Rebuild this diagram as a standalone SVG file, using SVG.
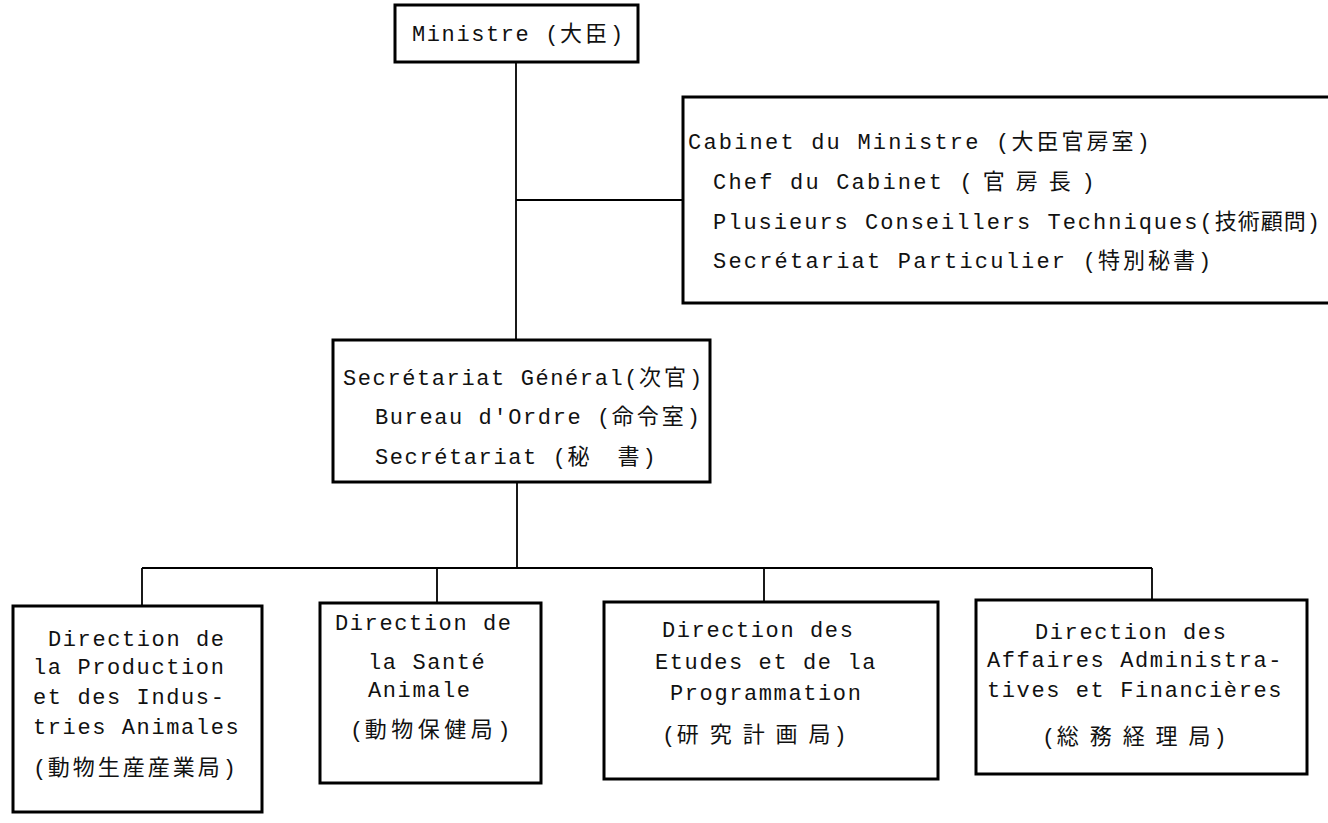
<svg xmlns="http://www.w3.org/2000/svg" width="1328" height="823" viewBox="0 0 1328 823">
<style>
.box{fill:#fff;stroke:#000;stroke-width:3}
.ln{stroke:#000;stroke-width:1.8;fill:none}
text{font-family:"Liberation Mono","Noto Sans CJK JP",monospace;font-size:22px;letter-spacing:1.6px;fill:#111;white-space:pre}
.j{font-family:"Noto Sans CJK JP",sans-serif;font-size:22px;letter-spacing:3px}
.cab text{letter-spacing:2.2px}
.cab .j{letter-spacing:3px}
</style>
<rect width="1328" height="823" fill="#fff"/>
<g id="connectors">
<line class="ln" x1="516" y1="62" x2="516" y2="340"/>
<line class="ln" x1="516" y1="200" x2="683" y2="200"/>
<line class="ln" x1="517" y1="482" x2="517" y2="568"/>
<line class="ln" x1="142" y1="568" x2="1152" y2="568"/>
<line class="ln" x1="142" y1="568" x2="142" y2="606"/>
<line class="ln" x1="437" y1="568" x2="437" y2="603"/>
<line class="ln" x1="764" y1="568" x2="764" y2="602"/>
<line class="ln" x1="1152" y1="568" x2="1152" y2="600"/>
</g>
<g id="ministre">
<rect class="box" x="395" y="5" width="243" height="57"/>
<text x="412" y="41" xml:space="preserve">Ministre (<tspan class="j">大臣</tspan>)</text>
</g>
<g id="cabinet" class="cab">
<rect class="box" x="683" y="97" width="660" height="206"/>
<text x="688" y="149" xml:space="preserve">Cabinet du Ministre (<tspan class="j">大臣官房室</tspan>)</text>
<text x="713" y="189" xml:space="preserve">Chef du Cabinet (<tspan class="j"> 官 房 長 </tspan>)</text>
<text x="713" y="229" xml:space="preserve" style="letter-spacing:2px">Plusieurs Conseillers Techniques(<tspan class="j" style="letter-spacing:1px">技術顧問</tspan>)</text>
<text x="713" y="268" xml:space="preserve">Secrétariat Particulier (<tspan class="j">特別秘書</tspan>)</text>
</g>
<g id="secretariat">
<rect class="box" x="333" y="340" width="377" height="142"/>
<text x="343" y="385" xml:space="preserve">Secrétariat Général(<tspan class="j">次官</tspan>)</text>
<text x="375" y="424" xml:space="preserve">Bureau d'Ordre (<tspan class="j">命令室</tspan>)</text>
<text x="375" y="464" xml:space="preserve">Secrétariat (<tspan class="j">秘　書</tspan>)</text>
</g>
<g id="dir-production">
<rect class="box" x="13" y="606" width="249" height="206"/>
<text x="48" y="646">Direction de</text>
<text x="33" y="674">la Production</text>
<text x="33" y="704">et des Indus-</text>
<text x="33" y="734">tries Animales</text>
<text x="33" y="775">(<tspan class="j">動物生産産業局</tspan>)</text>
</g>
<g id="dir-sante">
<rect class="box" x="320" y="603" width="221" height="180"/>
<text x="335" y="630">Direction de</text>
<text x="368" y="669">la Santé</text>
<text x="368" y="697">Animale</text>
<text x="350" y="737">(<tspan class="j" style="letter-spacing:4.5px">動物保健局</tspan>)</text>
</g>
<g id="dir-etudes">
<rect class="box" x="604" y="602" width="334" height="177"/>
<text x="662" y="637">Direction des</text>
<text x="655" y="669">Etudes et de la</text>
<text x="670" y="700">Programmation</text>
<text x="662" y="742" xml:space="preserve">(<tspan class="j">研 究 計 画 局</tspan>)</text>
</g>
<g id="dir-affaires">
<rect class="box" x="976" y="600" width="331" height="174"/>
<text x="1035" y="639">Direction des</text>
<text x="987" y="667">Affaires Administra-</text>
<text x="987" y="697">tives et Financières</text>
<text x="1042" y="744" xml:space="preserve">(<tspan class="j">総 務 経 理 局</tspan>)</text>
</g>
</svg>
